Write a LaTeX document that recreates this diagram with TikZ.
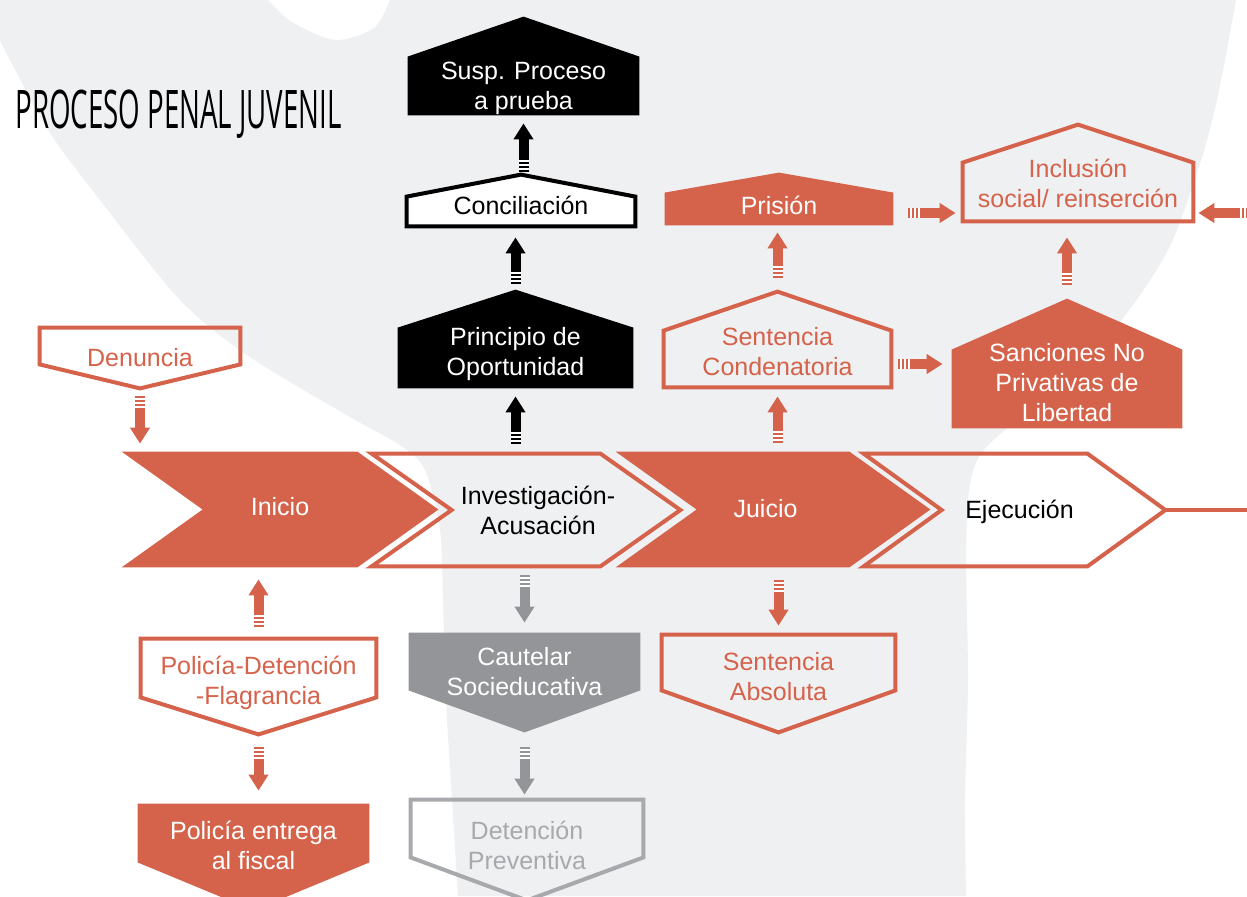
\documentclass[tikz,border=0pt]{standalone}
\usepackage{fontspec}
\setmainfont{Liberation Sans}
\newfontfamily\titlefont{Open Sans}
\usepackage{graphicx}
\usetikzlibrary{arrows.meta}
\definecolor{naranja}{RGB}{213,98,74}
\definecolor{grisfondo}{RGB}{239,240,242}
\definecolor{gris}{RGB}{147,149,152}
\definecolor{grisclaro}{RGB}{167,169,172}
\pgfdeclarelayer{fondo}
\pgfdeclarelayer{cajas}
\pgfsetlayers{fondo,cajas,main}
% outlines drawn round a node
\newcommand\chevron[2]{(#1.north west) -- ([xshift=-#2]#1.north east) -- (#1.east) -- ([xshift=-#2]#1.south east) -- (#1.south west) -- ([xshift=#2]#1.west) -- cycle}
\newcommand\casa[2]{(#1.south west) -- (#1.south east) -- (#1.north east) -- ([yshift=#2]#1.north) -- (#1.north west) -- cycle}
\newcommand\punta[2]{(#1.north west) -- (#1.north east) -- (#1.south east) -- ([yshift=-#2]#1.south) -- (#1.south west) -- cycle}
% text of a box, raised by #1
\newcommand\rotulo[2]{\raisebox{#1}[0pt][0pt]{\begin{tabular}{@{}c@{}}#2\end{tabular}}}
\tikzset{
  caja/.style={rectangle, inner sep=0pt, font=\fontsize{12.5}{15}\selectfont},
  borde/.style={draw=#1, line width=2pt, line join=miter},
  flecha/.style={draw=#1, line width=5pt, -{Triangle[width=9.5pt,length=8pt]},
    postaction={draw=white, -, dash pattern=on 0pt off 1pt on 0.8pt off 1.2pt on 0.8pt off 1.2pt on 0.8pt off 80pt}}
}
\begin{document}
\begin{tikzpicture}[x=0.5pt,y=-0.5pt]
		\useasboundingbox (0,0) rectangle (1247,896);
		\clip (0,0) rectangle (1247,896);
		% draw background
		\begin{pgfonlayer}{fondo}
		\fill[white] (0,0) rectangle (1247,896);
		\fill[grisfondo] (0,0) -- (268,0)
		  -- plot[smooth] coordinates {(268,0) (292,22) (335,40) (374,28) (390,0)}
		  -- (1236,0)
		  -- plot[smooth] coordinates {(1236,0) (1217,100) (1198,170) (1168,250) (1120,322) (1060,385) (1005,430) (980,455) (969,490) (966,560) (968,680) (965,800) (966,896)}
		  -- (458,896)
		  -- plot[smooth] coordinates {(458,896) (452,800) (446,700) (443,600) (440,530) (425,470) (400,445) (350,417) (250,357) (180,300) (100,200) (50,133) (10,60) (0,40)}
		  -- cycle;
		\end{pgfonlayer}
		% draw title
		\node[anchor=base west, inner sep=0pt] (titulo) at (15,128) {\scalebox{0.52}[1]{\titlefont\fontsize{26.6}{30}\selectfont PROCESO PENAL JUVENIL}};
		% draw main stages
		\node[caja, minimum width=158pt, minimum height=57.5pt, text=white] (inicio) at (280,509.5) {\rotulo{-2.9pt}{Inicio}};
		\node[caja, minimum width=154pt, minimum height=56pt] (invest) at (526,510) {\hspace{12pt}\rotulo{-4.6pt}{Investigación-\\Acusación}};
		\node[caja, minimum width=157pt, minimum height=57.5pt, text=white] (juicio) at (773,509.5) {\hspace{-7.5pt}\rotulo{-3.9pt}{Juicio}};
		\node[caja, minimum width=150.5pt, minimum height=56pt] (ejec) at (1014.5,510) {\hspace{5pt}\rotulo{-4.1pt}{Ejecución}};
		\coordinate (fin) at (1260,510);
		% draw upper boxes
		\node[caja, minimum width=115.5pt, minimum height=29pt, text=white] (susp) at (523.5,86) {\rotulo{-4.1pt}{Susp. Proceso\\a prueba}};
		\node[caja, minimum width=114pt, minimum height=14.5pt] (concil) at (521,211.5) {\rotulo{-1.4pt}{Conciliación}};
		\node[caja, minimum width=117.5pt, minimum height=30pt, text=white] (princ) at (515.5,358) {\rotulo{-1.1pt}{Principio de\\Oportunidad}};
		\node[caja, minimum width=114pt, minimum height=16pt, text=white] (prision) at (779,209) {\rotulo{-2.6pt}{Prisión}};
		\node[caja, minimum width=113.5pt, minimum height=28pt, text=naranja] (condena) at (777.5,359) {\rotulo{-0.6pt}{Sentencia\\Condenatoria}};
		\node[caja, minimum width=115pt, minimum height=29pt, text=naranja] (inclu) at (1078,192) {\rotulo{-0.1pt}{Inclusión\\social/ reinserción}};
		\node[caja, minimum width=115pt, minimum height=39pt, text=white] (sanc) at (1067,389) {\rotulo{-1.1pt}{Sanciones No\\Privativas de\\Libertad}};
		% draw lower boxes
		\node[caja, minimum width=100pt, minimum height=18pt, text=naranja] (denun) at (140,346) {\rotulo{-10.1pt}{Denuncia}};
		\node[caja, minimum width=117.5pt, minimum height=29pt, text=naranja] (polic) at (258.5,668) {\rotulo{-10.6pt}{Policía-Detención\\-Flagrancia}};
		\node[caja, minimum width=115.5pt, minimum height=29pt, text=white] (entrega) at (253.5,833) {\rotulo{-10.9pt}{Policía entrega\\al fiscal}};
		\node[caja, minimum width=115.5pt, minimum height=28.5pt, text=white] (caute) at (524.5,661.5) {\rotulo{-9.4pt}{Cautelar\\Socieducativa}};
		\node[caja, minimum width=116pt, minimum height=28.5pt, text=grisclaro] (deten) at (527,828.5) {\rotulo{-12.9pt}{Detención\\Preventiva}};
		\node[caja, minimum width=116.5pt, minimum height=27.5pt, text=naranja] (absol) at (778.5,662.5) {\rotulo{-11.4pt}{Sentencia\\Absoluta}};
		% draw shapes
		\begin{pgfonlayer}{cajas}
		\fill[naranja] \chevron{inicio}{40.5pt};
		\draw[borde=naranja] \chevron{invest}{40pt};
		\fill[naranja] \chevron{juicio}{40.5pt};
		\draw[borde=naranja] \chevron{ejec}{39pt};
		\fill[black] \casa{susp}{20pt};
		\draw[borde=black, fill=white] \casa{concil}{11pt};
		\fill[black] \casa{princ}{19pt};
		\fill[naranja] \casa{prision}{10pt};
		\draw[borde=naranja] \casa{condena}{19.5pt};
		\draw[borde=naranja] \casa{inclu}{19pt};
		\fill[naranja] \casa{sanc}{25.5pt};
		\draw[borde=naranja] \punta{denun}{12pt};
		\draw[borde=naranja] \punta{polic}{18.5pt};
		\fill[naranja] \punta{entrega}{24pt};
		\fill[gris] \punta{caute}{21pt};
		\draw[borde=grisclaro] \punta{deten}{21.5pt};
		\draw[borde=naranja] \punta{absol}{21pt};
		\end{pgfonlayer}
		\draw[naranja, line width=2pt] (ejec.east) -- (fin);
		% draw arrows
		\coordinate (c2s) at ([yshift=-2.5pt]condena.east);
		\coordinate (p2i) at ([yshift=-2pt]prision.east);
		\coordinate (reinc) at (1252,213);
		\draw[flecha=naranja, shorten <=16pt, shorten >=4pt] (denun.south) -- (denun.south |- inicio.north);
		\draw[flecha=naranja, shorten <=6pt, shorten >=6pt] (polic.north) -- (polic.north |- inicio.south);
		\draw[flecha=naranja, shorten <=25pt, shorten >=6.5pt] (polic.south) -- (polic.south |- entrega.north);
		\draw[flecha=black, shorten <=5pt, shorten >=4pt] (princ.south |- invest.north) -- (princ.south);
		\draw[flecha=black, shorten <=22pt, shorten >=5.5pt] (princ.north) -- (princ.north |- concil.south);
		\draw[flecha=black, shorten <=12.5pt, shorten >=4pt] (susp.south |- concil.north) -- (susp.south);
		\draw[flecha=gris, shorten <=4.5pt, shorten >=5pt] (caute.north |- invest.south) -- (caute.north);
		\draw[flecha=gris, shorten <=28.5pt, shorten >=2.5pt] (caute.south) -- (caute.south |- deten.north);
		\draw[flecha=naranja, shorten <=4.5pt, shorten >=4.5pt] (condena.south |- juicio.north) -- (condena.south);
		\draw[flecha=naranja, shorten <=6.5pt, shorten >=4.5pt] (absol.north |- juicio.south) -- (absol.north);
		\draw[flecha=naranja, shorten <=26.5pt, shorten >=3.5pt] (condena.north) -- (condena.north |- prision.south);
		\draw[flecha=naranja, shorten <=3.5pt, shorten >=4.5pt] (c2s) -- (c2s -| sanc.west);
		\draw[flecha=naranja, shorten <=32.5pt, shorten >=8pt] (sanc.north) -- (sanc.north |- inclu.south);
		\draw[flecha=naranja, shorten <=7.5pt, shorten >=3.5pt] (p2i) -- (p2i -| inclu.west);
		\draw[flecha=naranja, shorten >=2.5pt] (reinc) -- (reinc -| inclu.east);
\end{tikzpicture}
\end{document}
